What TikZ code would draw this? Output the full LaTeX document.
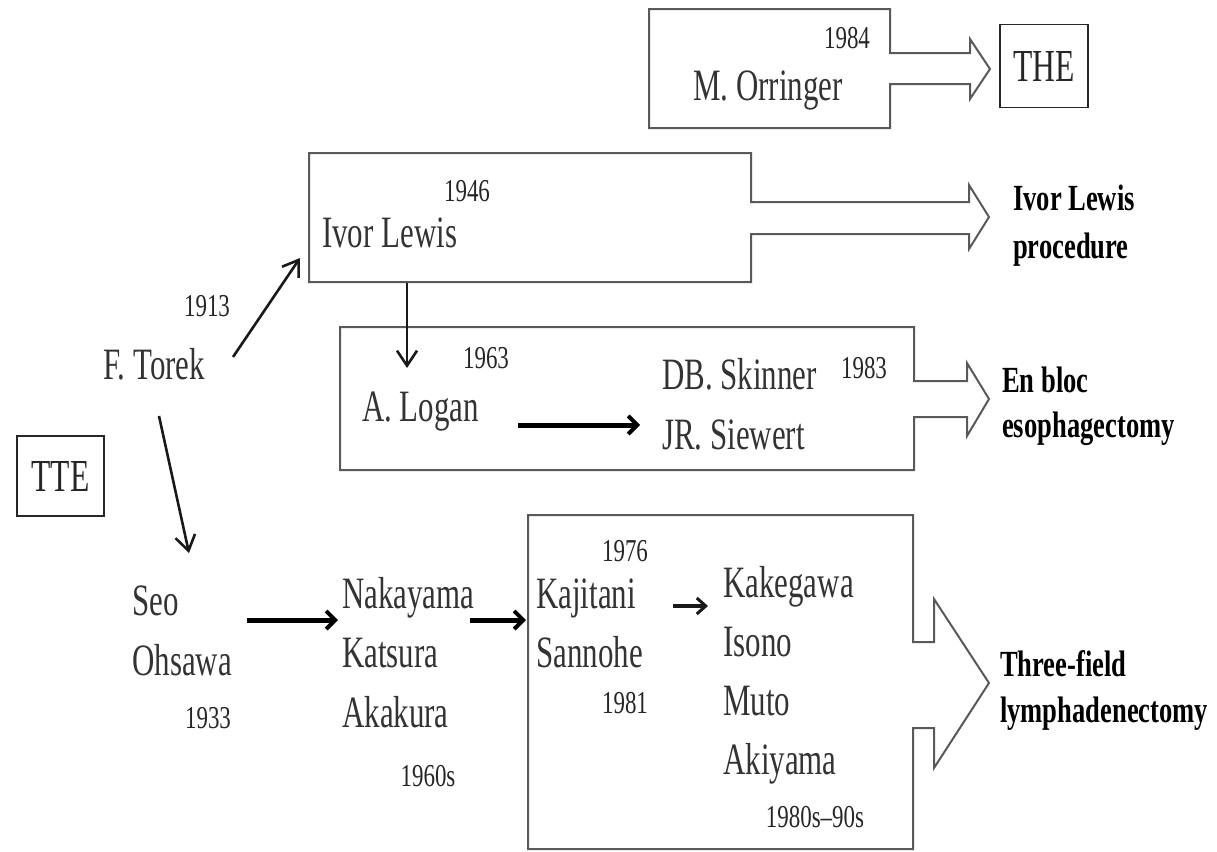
\documentclass[tikz,border=0pt]{standalone}
\usepackage{fontspec}
\setmainfont{Liberation Serif}[FakeStretch=0.72]
\newfontfamily\personfont{Liberation Serif}[FakeStretch=0.69]
\usetikzlibrary{arrows.meta}
\tikzset{
  persontxt/.style={inner sep=0pt, anchor=base west, text=black!80, font=\personfont\fontsize{45}{50}\selectfont},
  yeartxt/.style={inner sep=0pt, anchor=center, text=black!85, font=\fontsize{32}{36}\selectfont},
  resulttxt/.style={inner sep=0pt, anchor=base west, text=black, font=\bfseries\fontsize{37}{44}\selectfont},
  tagbox/.style={draw=black!85, line width=1.8bp, inner sep=0pt, text=black!85, font=\personfont\fontsize{46}{50}\selectfont},
  outline/.style={draw=black!65, line width=2bp, line join=miter},
  thinarrow/.style={draw=black!90, line width=2.6bp, -{Straight Barb[length=15bp,width=20bp,line width=2.6bp]}},
  thickarrow/.style={draw=black, line width=5bp, -{Straight Barb[length=9bp,width=18bp,line width=4bp]}},
  midarrow/.style={draw=black!90, line width=3.5bp, -{Straight Barb[length=9bp,width=16bp,line width=3bp]}}
}
\begin{document}
\begin{tikzpicture}[x=1bp,y=-1bp]
\useasboundingbox (0,0) rectangle (1217,852);

% block outlines merged with hollow arrows
\draw[outline] (890,53) -- (890,9) -- (649,9) -- (649,128) -- (890,128) -- (890,84)
  -- (970,84) -- (970,99) -- (990,69) -- (970,39) -- (970,53) -- cycle;
\draw[outline] (751,202) -- (751,153) -- (309,153) -- (309,282) -- (751,282) -- (751,234)
  -- (969,234) -- (969,249) -- (989,217) -- (969,185) -- (969,202) -- cycle;
\draw[outline] (914,381) -- (914,327) -- (340,327) -- (340,470) -- (914,470) -- (914,417)
  -- (967,417) -- (967,436) -- (989,399) -- (967,363) -- (967,381) -- cycle;
\draw[outline] (913,642) -- (913,515) -- (528,515) -- (528,849) -- (913,849) -- (913,728)
  -- (934,728) -- (934,768) -- (989,683) -- (934,599) -- (934,642) -- cycle;

% tags
\node[tagbox, minimum width=88bp, minimum height=83bp] (the) at (1044,66) {THE};
\node[tagbox, minimum width=87bp, minimum height=80bp] (tte) at (60.5,476) {TTE};

% Orringer
\node[yeartxt] (y1984) at (847,38) {1984};
\node[persontxt] (orringer) at (693,100) {M. Orringer};

% Ivor Lewis
\node[yeartxt] (y1946) at (467,191) {1946};
\node[persontxt] (lewis) at (322,247) {Ivor Lewis};
\node[resulttxt] (rlewis1) at (1013,210) {Ivor Lewis};
\node[resulttxt] (rlewis2) at (1013,258) {procedure};

% Torek
\node[yeartxt] (y1913) at (207,306) {1913};
\node[persontxt] (torek) at (103,379) {F. Torek};

% Logan / Skinner
\node[yeartxt] (y1963) at (486,358) {1963};
\node[persontxt] (logan) at (362,421) {A. Logan};
\node[persontxt] (skinner) at (662,389) {DB. Skinner};
\node[persontxt] (siewert) at (662,449) {JR. Siewert};
\node[yeartxt] (y1983) at (864,368) {1983};
\node[resulttxt] (rbloc1) at (1002,392) {En bloc};
\node[resulttxt] (rbloc2) at (1002,437) {esophagectomy};

% Seo / Ohsawa
\node[persontxt] (seo) at (132,615) {Seo};
\node[persontxt] (ohsawa) at (132,675) {Ohsawa};
\node[yeartxt] (y1933) at (208,718) {1933};

% Nakayama group
\node[persontxt] (nakayama) at (342,608) {Nakayama};
\node[persontxt] (katsura) at (342,667) {Katsura};
\node[persontxt] (akakura) at (342,727) {Akakura};
\node[yeartxt] (y1960) at (428,776) {1960s};

% Kajitani group
\node[yeartxt] (y1976) at (625,551) {1976};
\node[persontxt] (kajitani) at (536,608) {Kajitani};
\node[persontxt] (sannohe) at (536,667) {Sannohe};
\node[yeartxt] (y1981) at (625,703) {1981};

% Kakegawa group
\node[persontxt] (kakegawa) at (723,597) {Kakegawa};
\node[persontxt] (isono) at (723,656) {Isono};
\node[persontxt] (muto) at (723,715) {Muto};
\node[persontxt] (akiyama) at (723,774) {Akiyama};
\node[yeartxt] (y1980) at (815,817) {1980s--90s};

\node[resulttxt] (rthree1) at (1000,676) {Three-field};
\node[resulttxt] (rthree2) at (1000,722) {lymphadenectomy};

% connector end points
\coordinate (torekNE) at (233,357);
\coordinate (lewisIn) at (300,258);
\coordinate (torekS) at (159,416);
\coordinate (seoIn) at (189,553);
\coordinate (lewisOut) at (407,283);
\coordinate (loganIn) at (407,368);
\coordinate (loganOut) at (518,425);
\coordinate (skinnerIn) at (640,425);
\coordinate (seoOut) at (247,620);
\coordinate (nakaIn) at (338,620);
\coordinate (nakaOut) at (470,620);
\coordinate (kajiIn) at (526,620);
\coordinate (kajiOut) at (673,606);
\coordinate (kakeIn) at (708,606);

\draw[thinarrow] (torekNE) -- (lewisIn);
\draw[thinarrow] (torekS) -- (seoIn);
\draw[thinarrow] (lewisOut) -- (loganIn);
\draw[thickarrow] (loganOut) -- (skinnerIn);
\draw[thickarrow] (seoOut) -- (nakaIn);
\draw[thickarrow] (nakaOut) -- (kajiIn);
\draw[midarrow] (kajiOut) -- (kakeIn);
\end{tikzpicture}
\end{document}
